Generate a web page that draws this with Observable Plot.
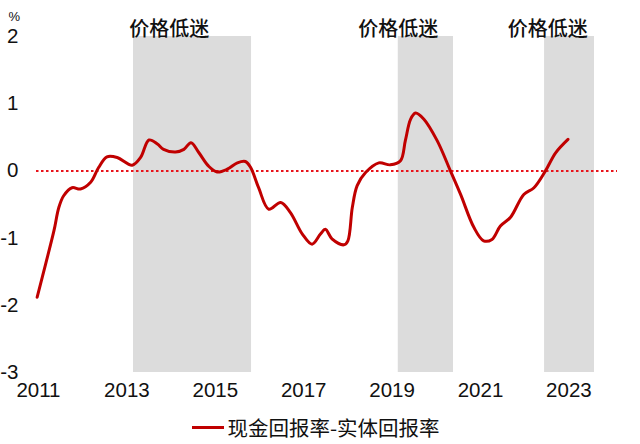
<!DOCTYPE html>
<html>
<head>
<meta charset="utf-8">
<script src="https://cdn.jsdelivr.net/npm/d3@7"></script>
<script src="https://cdn.jsdelivr.net/npm/@observablehq/plot@0.6"></script>
<style>
  html, body { margin: 0; padding: 0; background: #ffffff; }
  #chart { width: 640px; }
  .legend { height: 34px; display: flex; align-items: center; justify-content: center; gap: 3px;
    font-family: "Noto Sans CJK SC", "Liberation Sans", sans-serif; font-size: 20.5px; color: #111; margin-left: -8px; }
  .swatch { width: 32px; height: 3px; background: #c00000; display: inline-block; }
</style>
</head>
<body>
<div id="chart"></div>
<script>
// Series: 现金回报率-实体回报率 (%)
const years = [2010.97, 2011.16, 2011.35, 2011.46, 2011.57, 2011.76, 2011.95, 2012.18, 2012.36, 2012.55,
  2012.78, 2013.12, 2013.31, 2013.50, 2013.69, 2013.83, 2014.10, 2014.29, 2014.45, 2014.63,
  2014.85, 2015.04, 2015.27, 2015.50, 2015.68, 2015.80, 2015.98, 2016.21, 2016.48,
  2016.70, 2016.97, 2017.19, 2017.38, 2017.49, 2017.64, 2017.91, 2018.00, 2018.10, 2018.21,
  2018.40, 2018.70, 2018.96, 2019.19, 2019.30, 2019.42, 2019.53, 2019.72, 2020.02, 2020.32,
  2020.55, 2020.85, 2021.07, 2021.26, 2021.45, 2021.68, 2021.98, 2022.21, 2022.47, 2022.70, 2022.98];
const values = [-1.88, -1.39, -0.89, -0.545, -0.37, -0.25, -0.27, -0.17, 0.05, 0.21,
  0.20, 0.085, 0.20, 0.46, 0.40, 0.32, 0.28, 0.32, 0.42, 0.27,
  0.07, -0.015, 0.025, 0.12, 0.14, 0.05, -0.25, -0.57, -0.47,
  -0.62, -0.94, -1.09, -0.94, -0.87, -1.01, -1.10, -1.04, -0.545, -0.22,
  -0.025, 0.12, 0.09, 0.15, 0.45, 0.77, 0.86, 0.77, 0.45, 0.0,
  -0.35, -0.84, -1.04, -1.02, -0.82, -0.69, -0.35, -0.25, 0.0, 0.27, 0.47];

// Shaded "价格低迷" periods
const periodStart = [2013.15, 2019.14, 2022.45];
const periodEnd = [2015.82, 2020.39, 2023.58];
const periodLabel = ["价格低迷", "价格低迷", "价格低迷"];
const periodLabelX = [2013.96, 2019.14, 2022.52];

const xTicks = [2011, 2013, 2015, 2017, 2019, 2021, 2023];
const yTicks = [2, 1, 0, -1, -2, -3];
const seriesName = "现金回报率-实体回报率";

const series = years.map((t, i) => ({t, v: values[i]}));
const periods = periodStart.map((s, i) => ({s, e: periodEnd[i], label: periodLabel[i], lx: periodLabelX[i]}));

const chart = Plot.plot({
  width: 640,
  height: 410,
  marginLeft: 36,
  marginRight: 23,
  marginTop: 36,
  marginBottom: 38,
  style: {fontFamily: "'Liberation Sans', Arial, sans-serif", fontSize: "20.5px", color: "#111", background: "transparent", overflow: "visible"},
  x: {domain: [2010.955, 2024.1], ticks: xTicks, tickFormat: d => String(d), tickSize: 0, tickPadding: 10, label: null},
  y: {domain: [-3, 2], ticks: yTicks, tickFormat: d => String(d), tickSize: 0, tickPadding: 18, label: null},
  marks: [
    Plot.rect(periods, {x1: "s", x2: "e", fill: "#dcdcdc"}),
    Plot.ruleY([0], {stroke: "#e8141b", strokeWidth: 2, strokeDasharray: "2.5,2.5"}),
    Plot.line(series, {x: "t", y: "v", stroke: "#c00000", strokeWidth: 3, curve: "catmull-rom"}),
    Plot.text(periods, {x: "lx", text: "label", frameAnchor: "top", dy: -15, fontSize: 20, fontWeight: 500,
      fontFamily: "'Noto Sans CJK SC', sans-serif", fill: "#111"}),
    Plot.text(["%"], {frameAnchor: "top-left", text: d => d, dx: -28, dy: -25, fontSize: 13, fill: "#111"})
  ]
});
document.getElementById("chart").appendChild(chart);

const legend = document.createElement("div");
legend.className = "legend";
legend.innerHTML = `<span class="swatch"></span><span>${seriesName}</span>`;
document.getElementById("chart").appendChild(legend);
</script>
</body>
</html>
